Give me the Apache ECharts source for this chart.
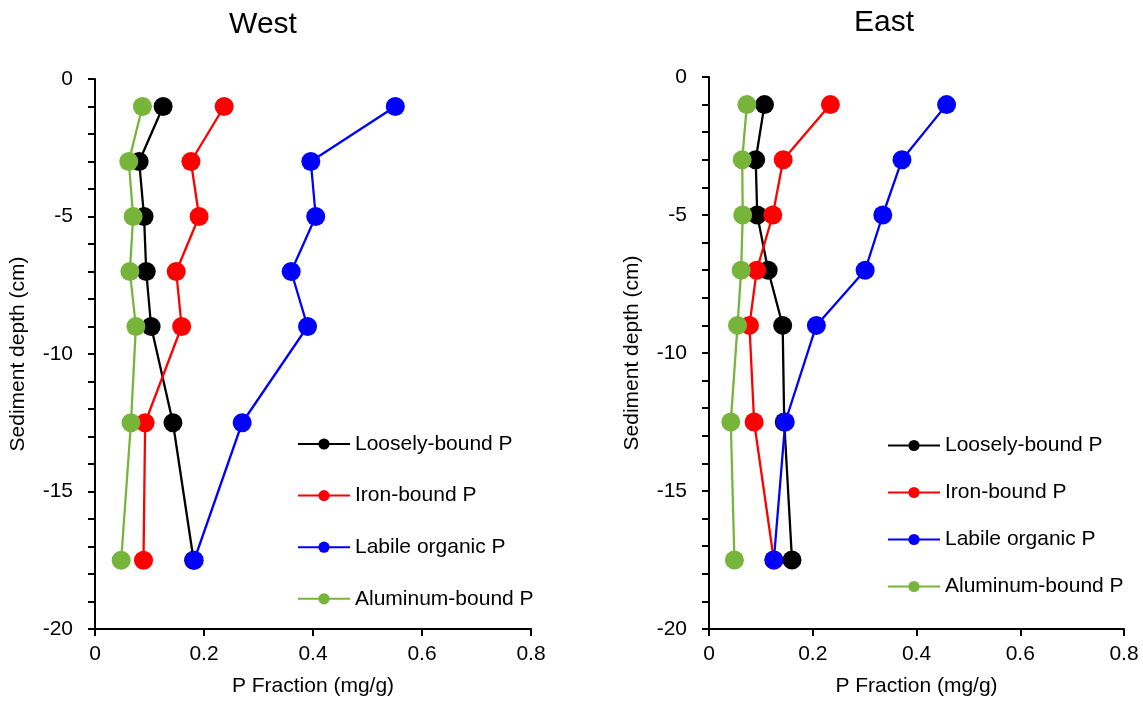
<!DOCTYPE html>
<html>
<head>
<meta charset="utf-8">
<script src="https://cdn.jsdelivr.net/npm/echarts@6/dist/echarts.min.js"></script>
<style>
html,body{margin:0;padding:0;background:#fff;}
#chart{width:1143px;height:702px;}
</style>
</head>
<body>
<div id="chart"></div>
<script>
// Depths (cm)
var depths = [-1, -3, -5, -7, -9, -12.5, -17.5];
var seriesNames = ['Loosely-bound P', 'Iron-bound P', 'Labile organic P', 'Aluminum-bound P'];
var panelTitles = ['West', 'East'];
var xTicks = [0, 0.2, 0.4, 0.6, 0.8];
var yTicks = [0, -5, -10, -15, -20];

// West (mg/g)
var westLoose  = [0.125, 0.081, 0.090, 0.094, 0.103, 0.143, 0.181];
var westIron   = [0.237, 0.176, 0.191, 0.149, 0.159, 0.092, 0.089];
var westLabile = [0.551, 0.396, 0.405, 0.360, 0.390, 0.270, 0.182];
var westAl     = [0.087, 0.062, 0.070, 0.064, 0.075, 0.066, 0.048];

// East (mg/g)
var eastLoose  = [0.107, 0.090, 0.093, 0.114, 0.142, 0.145, 0.160];
var eastIron   = [0.234, 0.143, 0.123, 0.092, 0.078, 0.087, 0.125];
var eastLabile = [0.458, 0.372, 0.335, 0.301, 0.207, 0.147, 0.125];
var eastAl     = [0.073, 0.064, 0.065, 0.062, 0.055, 0.042, 0.049];

var colors = ['#000000', '#ff0000', '#0000ff', '#77b53a'];
var FONT = 'Liberation Sans, Arial, sans-serif';

function pairs(xs) {
  return xs.map(function (v, i) { return [v, depths[i]]; });
}

var panels = [
  [westLoose, westIron, westLabile, westAl],
  [eastLoose, eastIron, eastLabile, eastAl]
];

var grids = [
  {left: 95, top: 79, width: 436, height: 551},
  {left: 709, top: 77, width: 415, height: 553}
];

function xAxis(gi) {
  return {
    type: 'value', gridIndex: gi, min: xTicks[0], max: xTicks[xTicks.length - 1], interval: 0.2,
    position: 'bottom',
    name: 'P Fraction (mg/g)', nameLocation: 'middle', nameGap: 47,
    nameTextStyle: {fontFamily: FONT, fontSize: 21, color: '#000'},
    axisLine: {show: true, onZero: false, lineStyle: {color: '#000', width: 2}},
    axisTick: {show: true, inside: false, length: 7, lineStyle: {color: '#000', width: 2}},
    axisLabel: {fontFamily: FONT, fontSize: 21, color: '#000', margin: 15,
      formatter: function (v) { return String(v); }},
    splitLine: {show: false}
  };
}
function yAxis(gi) {
  return {
    type: 'value', gridIndex: gi, min: yTicks[yTicks.length - 1], max: yTicks[0], interval: 5,
    position: 'left',
    name: 'Sediment depth (cm)', nameLocation: 'middle', nameGap: 66, nameRotate: 90,
    nameTextStyle: {fontFamily: FONT, fontSize: 21, color: '#000'},
    axisLine: {show: true, onZero: false, lineStyle: {color: '#000', width: 2}},
    axisTick: {show: true, inside: false, length: 7, lineStyle: {color: '#000', width: 2}},
    minorTick: {show: true, splitNumber: 5, length: 7, lineStyle: {color: '#000', width: 2}},
    axisLabel: {fontFamily: FONT, fontSize: 21, color: '#000', margin: 22},
    splitLine: {show: false}, minorSplitLine: {show: false}
  };
}

var series = [];
panels.forEach(function (arrs, gi) {
  arrs.forEach(function (xs, si) {
    series.push({
      name: seriesNames[si], type: 'line', xAxisIndex: gi, yAxisIndex: gi,
      data: pairs(xs), symbol: 'circle', symbolSize: 19,
      lineStyle: {color: colors[si], width: 2.3},
      itemStyle: {color: colors[si]},
      z: 2 + si, animation: false
    });
  });
});

function legend(left, top, gap) {
  return {
    orient: 'vertical', left: left, top: top, itemGap: gap,
    itemWidth: 52, itemHeight: 14, selectedMode: false,
    data: seriesNames,
    textStyle: {fontFamily: FONT, fontSize: 21, color: '#000', lineHeight: 14}
  };
}

var chart = echarts.init(document.getElementById('chart'), null, {renderer: 'canvas'});
chart.setOption({
  backgroundColor: '#fff',
  animation: false,
  color: colors,
  grid: grids,
  xAxis: [xAxis(0), xAxis(1)],
  yAxis: [yAxis(0), yAxis(1)],
  legend: [legend(292, 428.5, 30.6), legend(882, 430, 26)],
  graphic: [
    {type: 'text', x: 263, y: 25, style: {text: panelTitles[0], font: '30px ' + FONT, fill: '#000', textAlign: 'center', textVerticalAlign: 'middle'}},
    {type: 'text', x: 884, y: 23, style: {text: panelTitles[1], font: '30px ' + FONT, fill: '#000', textAlign: 'center', textVerticalAlign: 'middle'}}
  ],
  series: series
});
</script>
</body>
</html>
